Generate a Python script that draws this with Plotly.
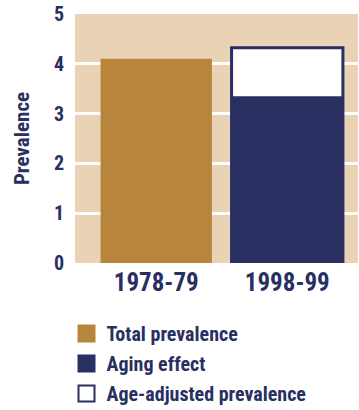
import plotly.graph_objects as go

periods = ["1978-79", "1998-99"]
total_prevalence = [4.1, None]
aging_effect = [None, 3.35]
age_adjusted_prevalence = [None, 4.32]
y_ticks = [0, 1, 2, 3, 4, 5]

NAVY = "#2a2f62"
GOLD = "#b8853d"
TAN = "#ead2b5"
FONT = "Roboto Condensed, Roboto, sans-serif"

xpos = list(range(len(periods)))

fig = go.Figure()
fig.add_trace(go.Bar(x=xpos, y=total_prevalence, width=0.85, marker=dict(color=GOLD, line=dict(width=0)),
                     showlegend=False))
fig.add_trace(go.Bar(x=xpos, y=age_adjusted_prevalence, width=0.85,
                     marker=dict(color="white", line=dict(color=NAVY, width=3)), showlegend=False))
fig.add_trace(go.Bar(x=xpos, y=aging_effect, width=0.85, marker=dict(color=NAVY, line=dict(width=0)),
                     showlegend=False))

# legend entries
legend_items = [("Total prevalence", GOLD, GOLD), ("Aging effect", NAVY, NAVY),
                ("Age-adjusted prevalence", "white", NAVY)]
for i, (name, fill, edge) in enumerate(legend_items):
    fig.add_trace(go.Scatter(x=[None], y=[None], mode="markers", name=name, legendgroup=name,
                             legendrank=i + 1,
                             marker=dict(symbol="square", size=21, color=fill,
                                         line=dict(color=edge, width=2))))

fig.update_layout(
    width=359, height=410,
    margin=dict(l=75, r=1, t=14, b=147, autoexpand=False),
    barmode="overlay",
    plot_bgcolor=TAN, paper_bgcolor="white",
    font=dict(family=FONT, color=NAVY),
    showlegend=True,
    legend=dict(x=-0.03, xanchor="left", y=-0.205, yanchor="top", traceorder="grouped",
                tracegroupgap=1, itemwidth=30,
                font=dict(family=FONT, size=20, color=NAVY, weight="bold"), bgcolor="rgba(0,0,0,0)"),
    xaxis=dict(range=[-0.62, 1.54], tickvals=xpos, ticktext=periods, showgrid=False, zeroline=False,
               tickfont=dict(family=FONT, size=25, color=NAVY, weight="bold"), ticks="", ticklabelstandoff=2),
    yaxis=dict(range=[0, 5], tickvals=y_ticks, showgrid=True, gridcolor="white", gridwidth=2.5,
               zeroline=False, ticks="", ticklabelstandoff=10,
               tickfont=dict(family=FONT, size=20, color=NAVY, weight="bold"),
               title=dict(text="Prevalence", standoff=18,
                          font=dict(family=FONT, size=21, color=NAVY, weight="bold"))),
)

fig.write_html("out.html")
